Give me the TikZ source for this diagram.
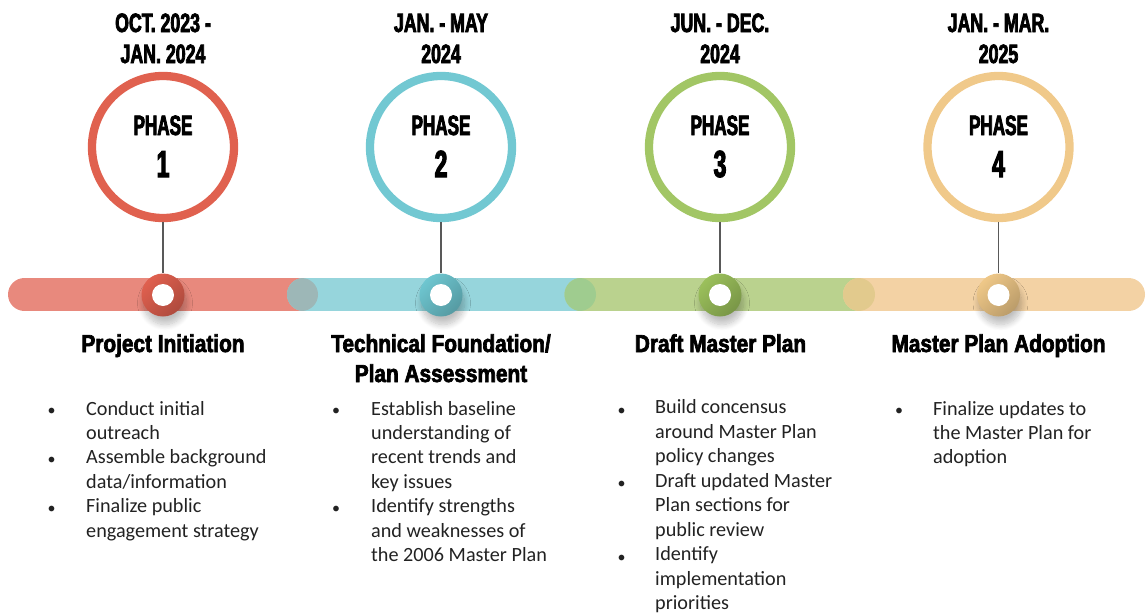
\documentclass[tikz,border=0pt]{standalone}
\usepackage{fontspec}
\setmainfont{Carlito}
% condensed heavy faces for dates, headings and titles
\newfontfamily\titlefont[FakeStretch=0.85,FakeBold=2.8]{Liberation Sans}
\newfontfamily\datefont[FakeStretch=0.67,FakeBold=2.8]{Liberation Sans}
\newfontfamily\phasefont[FakeStretch=0.61,FakeBold=2.8]{Liberation Sans}
\usetikzlibrary{shadows.blur}

\definecolor{redbar}{HTML}{E8897D}
\definecolor{rednode}{HTML}{E0604F}
\definecolor{redring}{HTML}{E0614F}
\definecolor{tealbar}{HTML}{96D5DC}
\definecolor{tealnode}{HTML}{6EC6D0}
\definecolor{tealring}{HTML}{72C8D2}
\definecolor{greenbar}{HTML}{BAD28E}
\definecolor{greennode}{HTML}{9BC05B}
\definecolor{greenring}{HTML}{A2C665}
\definecolor{orangebar}{HTML}{F3D2A4}
\definecolor{orangenode}{HTML}{EFC888}
\definecolor{orangering}{HTML}{F0C98A}
\definecolor{rtover}{HTML}{9DB7B7}
\definecolor{tgover}{HTML}{9FCC8F}
\definecolor{goover}{HTML}{E2CA8D}
\definecolor{bodytext}{HTML}{222222}

\tikzset{
  bar/.style={line width=33pt, line cap=round},
  ring/.style={circle, minimum size=142pt, inner sep=0pt, line width=8.3pt},
  dot/.style={circle, minimum size=43pt, inner sep=0pt,
    blur shadow={shadow xshift=2pt, shadow yshift=-8pt, shadow blur radius=6pt,
      shadow blur steps=10, shadow opacity=25}},
  hole/.style={circle, minimum size=22pt, inner sep=0pt, fill=white},
  stem/.style={draw=black!65, line width=1.3pt},
  datetxt/.style={inner sep=0pt, anchor=base, align=center,
    font=\datefont\bfseries\fontsize{26.5}{31}\selectfont},
  phasetxt/.style={inner sep=0pt, anchor=base,
    font=\phasefont\bfseries\fontsize{28}{30}\selectfont},
  numtxt/.style={inner sep=0pt, anchor=base,
    font=\phasefont\bfseries\fontsize{37.7}{40}\selectfont},
  titletxt/.style={inner sep=0pt, anchor=base, align=center,
    font=\titlefont\bfseries\fontsize{24.5}{30}\selectfont},
  bodytxt/.style={inner sep=0pt, anchor=base west, align=left, text=bodytext,
    font=\fontsize{20.2}{24.45}\selectfont},
  bullet/.style={inner sep=0pt, anchor=base, text=bodytext,
    font=\fontsize{16}{24.45}\selectfont},
}

\begin{document}
\begin{tikzpicture}[x=1pt, y=-1pt]
\useasboundingbox (0,0) rectangle (1146,613);

% timeline bar, one rounded segment per phase
\draw[bar, redbar]    (24.5,294.5)  -- (301.5,294.5);
\draw[bar, tealbar]   (303.5,294.5) -- (579.5,294.5);
\draw[bar, greenbar]  (581,294.5)   -- (858.5,294.5);
\draw[bar, orangebar] (859.5,294.5) -- (1128.5,294.5);
% blended overlaps where the rounded ends meet
\begin{scope}
  \clip (301.5,294.5) circle (16.5pt);
  \fill[rtover] (303.5,294.5) circle (16.5pt);
\end{scope}
\begin{scope}
  \clip (579.5,294.5) circle (16.5pt);
  \fill[tgover] (581,294.5) circle (16.5pt);
\end{scope}
\begin{scope}
  \clip (858.5,294.5) circle (16.5pt);
  \fill[goover] (859.5,294.5) circle (16.5pt);
\end{scope}

% phase rings, markers and stems
\foreach \i/\x/\c in {1/163/red, 2/441/teal, 3/720/green, 4/998.5/orange}{
  \node[ring, draw=\c ring] (ring\i) at (\x,147) {};
  \node[phasetxt] (phase\i) at (\x,135) {PHASE};
  \node[numtxt] (num\i) at (\x,177) {\i};
  \node[dot, left color=\c node, right color=\c node!78!black, shading angle=45] (dot\i) at (\x,295) {};
  \node[hole] (hole\i) at (dot\i.center) {};
  \draw[stem] (ring\i.south) -- (dot\i.north);
}

% dates (anchored on the baseline of the last line)
\node[datetxt] (date1) at (163,63)   {OCT. 2023 -\\JAN. 2024};
\node[datetxt] (date2) at (441,63)   {JAN. - MAY\\2024};
\node[datetxt] (date3) at (720,63)   {JUN. - DEC.\\2024};
\node[datetxt] (date4) at (998.5,63) {JAN. - MAR.\\2025};

% phase titles
\node[titletxt] (title1) at (163,352)   {Project Initiation};
\node[titletxt] (title2) at (441,382)   {Technical Foundation/\\Plan Assessment};
\node[titletxt] (title3) at (720.5,352) {Draft Master Plan};
\node[titletxt] (title4) at (998.5,352) {Master Plan Adoption};

% task lists (anchored on the baseline of the last line)
\node[bodytxt] (list1) at (86,537.25) {Conduct initial\\outreach\\Assemble background\\data/information\\Finalize public\\engagement strategy};
\node[bullet] (b11) at (51.5,415) {•};
\node[bullet] (b12) at (51.5,464) {•};
\node[bullet] (b13) at (51.5,513) {•};

\node[bodytxt] (list2) at (371,561.7) {Establish baseline\\understanding of\\recent trends and\\key issues\\Identify strengths\\and weaknesses of\\the 2006 Master Plan};
\node[bullet] (b21) at (336,415) {•};
\node[bullet] (b22) at (336,513) {•};

\node[bodytxt] (list3) at (655,609.5) {Build concensus\\around Master Plan\\policy changes\\Draft updated Master\\Plan sections for\\public review\\Identify\\implementation\\priorities};
\node[bullet] (b31) at (621.5,415) {•};
\node[bullet] (b32) at (621.5,488.5) {•};
\node[bullet] (b33) at (621.5,562) {•};

\node[bodytxt] (list4) at (933,463.9) {Finalize updates to\\the Master Plan for\\adoption};
\node[bullet] (b41) at (899,415) {•};
\end{tikzpicture}
\end{document}
